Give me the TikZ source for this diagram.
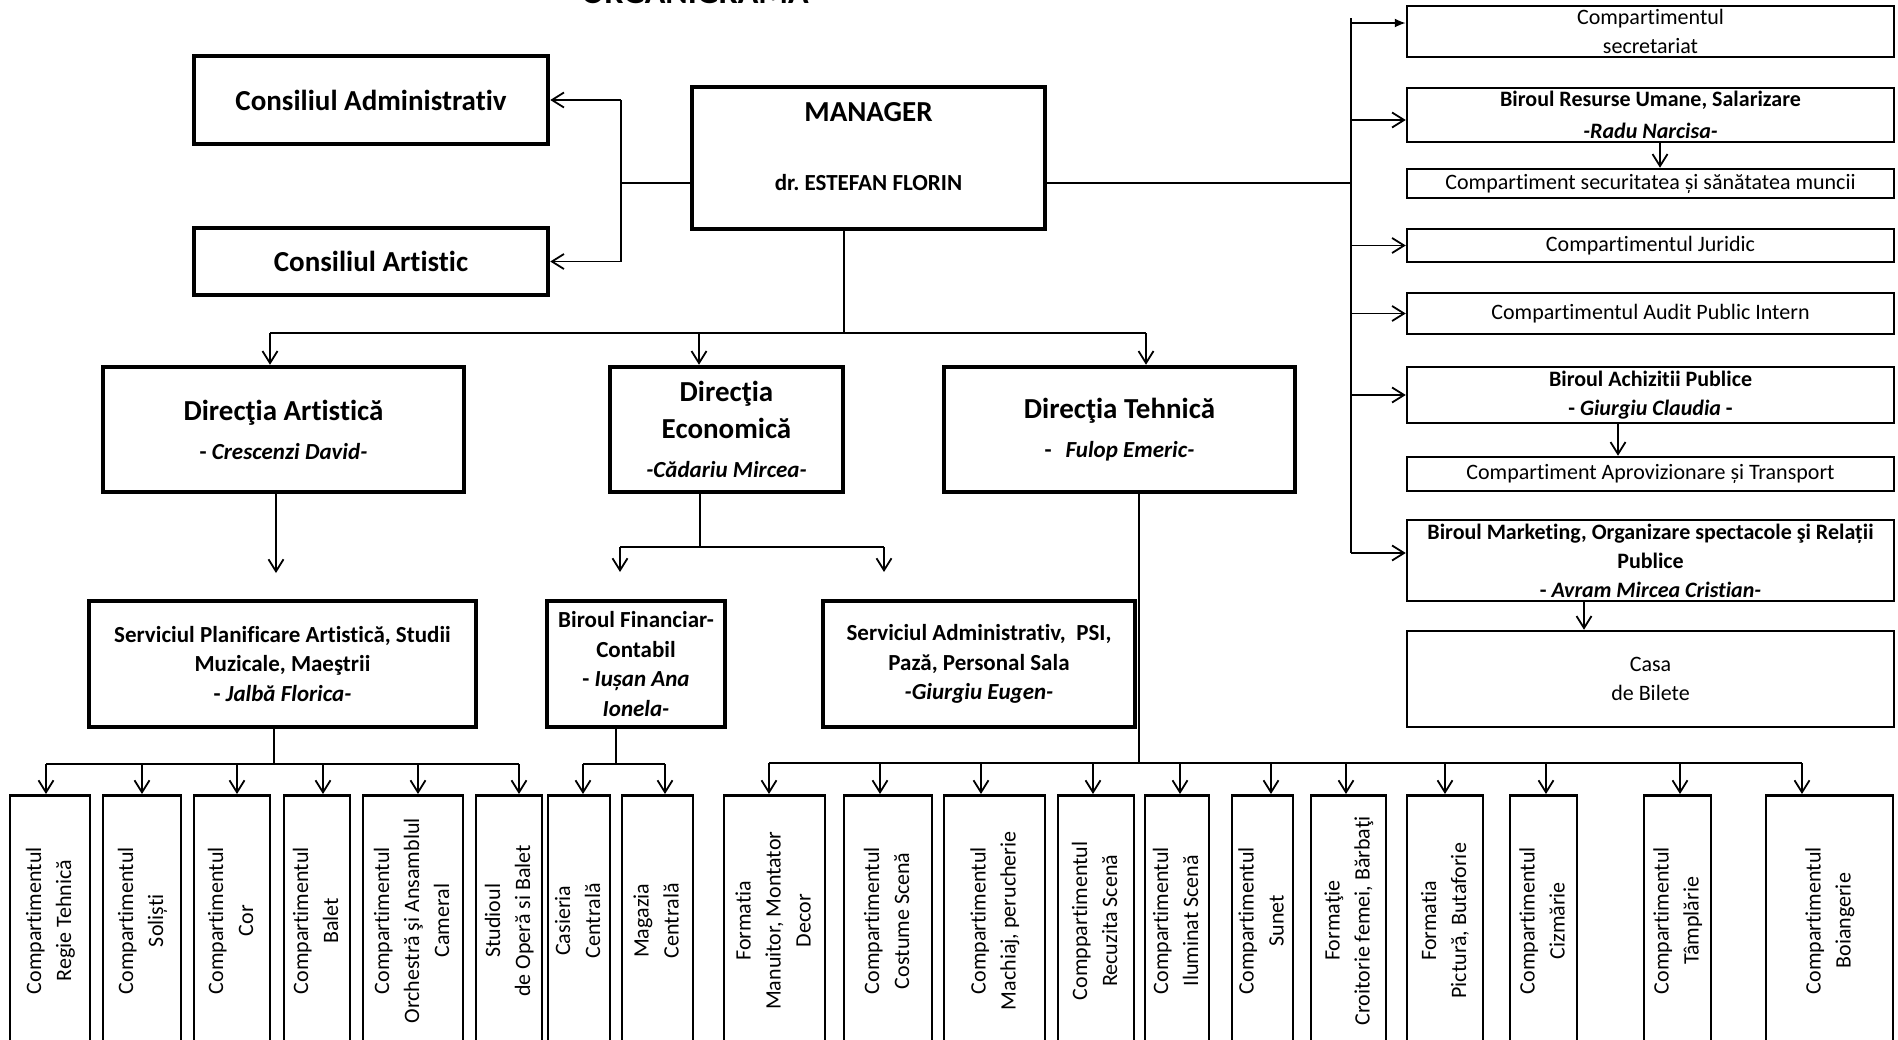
\documentclass[tikz,border=0pt]{standalone}
\usepackage{fontspec}
\setmainfont{Carlito}[Ligatures=NoCommon]
\usepackage{graphicx}
\usetikzlibrary{arrows.meta}
\newcommand{\uptext}[1]{\rotatebox{90}{\begin{tabular}{@{}c@{}}#1\end{tabular}}}
\tikzset{%
  >={Straight Barb[length=12pt,width=15pt]},
  % Specifications for style of boxes:
            base/.style = {rectangle, draw=black, inner sep=0pt,
                           align=center, font=\fontsize{22}{29}\selectfont},
           heavy/.style = {base, line width=4.5pt,
                           font=\bfseries\fontsize{23}{29.5}\selectfont},
         council/.style = {heavy, font=\bfseries\fontsize{29}{36}\selectfont},
          dirbox/.style = {heavy, minimum height=125pt,
                           font=\bfseries\fontsize{29}{37}\selectfont},
          office/.style = {base, line width=2.5pt, minimum width=487pt},
         compart/.style = {base, line width=2.5pt, anchor=north,
                           minimum height=251pt, font=\fontsize{22}{30}\selectfont},
}

\begin{document}
\begin{tikzpicture}[x=1pt, y=-1pt, line width=1.8pt]
  \path[use as bounding box, fill=white] (0,0) rectangle (1898,1039);
  % Specification of nodes (position, etc.)
  \node (title)    [font=\bfseries\fontsize{34}{40}\selectfont, anchor=base] at (695,3) {ORGANIGRAMA};
  \node (cadmin)   [council, minimum width=354pt, minimum height=88pt] at (371,100) {Consiliul Administrativ};
  \node (cart)     [council, minimum width=354pt, minimum height=67pt] at (371,261.5) {Consiliul Artistic};
  \node (manager)  [council, minimum width=353pt, minimum height=142pt] at (868.5,158)
        {\begin{tabular}{@{}c@{}}MANAGER\\[33pt]{\fontsize{23}{28}\selectfont dr.\ ESTEFAN FLORIN}\\[18pt]\end{tabular}};

  \node (dirart)   [dirbox, minimum width=361pt] at (283.5,429.5)
        {Direcţia Artistică\\[2pt]{\fontsize{23}{28}\selectfont - \textit{Crescenzi David-}}};
  \node (direco)   [dirbox, minimum width=233pt] at (726.5,429.5)
        {Direcţia\\Economică\\[2pt]{\fontsize{23}{28}\selectfont\itshape -Cădariu Mircea-}};
  \node (dirteh)   [dirbox, minimum width=351pt] at (1119.5,429.5)
        {Direcţia Tehnică\\[2pt]{\fontsize{23}{28}\selectfont -\hspace{0.6em}\textit{Fulop Emeric-}}};

  \node (plan)     [heavy, minimum width=387pt, minimum height=126pt] at (282.5,664)
        {Serviciul Planificare Artistică, Studii\\Muzicale, Maeştrii\\- \textit{Jalbă Florica-}};
  \node (fin)      [heavy, minimum width=178pt, minimum height=126pt] at (636,664)
        {Biroul Financiar-\\Contabil\\- \textit{Iușan Ana}\\\textit{Ionela-}};
  \node (admin)    [heavy, minimum width=312pt, minimum height=126pt] at (979,664)
        {Serviciul Administrativ,\ \ PSI,\\Pază, Personal Sala\\\textit{-Giurgiu Eugen-}};

  % right column
  \node (secr)     [office, minimum height=51pt] at (1650.5,31.5) {Compartimentul\\secretariat};
  \node (resurse)  [office, minimum height=54pt] at (1650.5,115)
        {\textbf{Biroul Resurse Umane, Salarizare}\\[3pt]\textbf{\textit{-Radu Narcisa-}}};
  \node (secur)    [office, minimum height=29pt] at (1650.5,183.5) {Compartiment securitatea și sănătatea muncii};
  \node (juridic)  [office, minimum height=33pt] at (1650.5,245.5) {Compartimentul Juridic};
  \node (audit)    [office, minimum height=41pt] at (1650.5,313.5) {Compartimentul Audit Public Intern};
  \node (achiz)    [office, minimum height=56pt] at (1650.5,395)
        {\textbf{Biroul Achizitii Publice}\\\textbf{- \textit{Giurgiu Claudia} -}};
  \node (aprov)    [office, minimum height=34pt] at (1650.5,474) {Compartiment Aprovizionare și Transport};
  \node (market)   [office, minimum height=81pt] at (1650.5,560.5)
        {\textbf{Biroul Marketing, Organizare spectacole şi Relații}\\\textbf{Publice}\\\textbf{- \textit{Avram Mircea Cristian-}}};
  \node (casa)     [office, minimum height=96pt] at (1650.5,679) {Casa\\de Bilete};

  % bottom row
  \node (regie)     [compart, minimum width=80pt]  at (50,794)     {\uptext{Compartimentul\\Regie Tehnică}};
  \node (solisti)   [compart, minimum width=78pt]  at (142,794)    {\uptext{Compartimentul\\Soliști}};
  \node (cor)       [compart, minimum width=76pt]  at (232,794)    {\uptext{Compartimentul\\Cor}};
  \node (balet)     [compart, minimum width=66pt]  at (317,794)    {\uptext{Compartimentul\\Balet}};
  \node (orch)      [compart, minimum width=100pt] at (413,794)    {\uptext{Compartimentul\\Orchestră şi Ansamblul\\Cameral}};
  \node (studio)    [compart, minimum width=66pt]  at (509,794)    {\uptext{Studioul\\de Operă si Balet}};
  \node (casieria)  [compart, minimum width=62pt]  at (579,794)    {\uptext{Casieria\\Centrală}};
  \node (magazia)   [compart, minimum width=71pt]  at (657.5,794)  {\uptext{Magazia\\Centrală}};
  \node (manuitor)  [compart, minimum width=101pt] at (774.5,794)  {\uptext{Formatia\\Manuitor, Montator\\Decor}};
  \node (costume)   [compart, minimum width=88pt]  at (888,794)    {\uptext{Compartimentul\\Costume Scenă}};
  \node (machiaj)   [compart, minimum width=101pt] at (994.5,794)  {\uptext{Compartimentul\\Machiaj, perucherie}};
  \node (recuzita)  [compart, minimum width=76pt]  at (1096,794)   {\uptext{Comppartimentul\\Recuzita Scenă}};
  \node (iluminat)  [compart, minimum width=64pt]  at (1177,794)   {\uptext{Compartimentul\\Iluminat Scenă}};
  \node (sunet)     [compart, minimum width=61pt]  at (1262.5,794) {\uptext{Compartimentul\\Sunet}};
  \node (croitorie) [compart, minimum width=75pt]  at (1348.5,794) {\uptext{Formaţie\\Croitorie femei, Bărbaţi}};
  \node (pictura)   [compart, minimum width=76pt]  at (1445,794)   {\uptext{Formatia\\Pictură, Butaforie}};
  \node (cizmarie)  [compart, minimum width=67pt]  at (1543.5,794) {\uptext{Compartimentul\\Cizmărie}};
  \node (tamplarie) [compart, minimum width=67pt]  at (1677.5,794) {\uptext{Compartimentul\\Tâmplărie}};
  \node (boiang)    [compart, minimum width=127pt] at (1829.5,794) {\uptext{Compartimentul\\Boiangerie}};

  % junction points of the lines
  \coordinate (lj)     at (621,183);
  \coordinate (rj)     at (1351,183);
  \coordinate (rtop)   at (1351,18);
  \coordinate (rbot)   at (1351,553);
  \coordinate (mj)     at (844,333);
  \coordinate (artend) at (276,573);
  \coordinate (ej)     at (700,547);
  \coordinate (efin)   at (620,572);
  \coordinate (eadm)   at (884,572);
  \coordinate (tj)     at (1139,763);
  \coordinate (pj)     at (274,764);
  \coordinate (fj)     at (616,764);

  % Specification of lines between nodes specified above
  \draw           (manager.west |- lj) -- (lj);
  \draw           (lj |- cadmin.east) -- (lj |- cart.east);
  \draw[->]       (lj |- cadmin.east) -- (cadmin.east);
  \draw[->]       (lj |- cart.east) -- (cart.east);

  \draw           (manager.east |- rj) -- (rj);
  \draw           (rtop) -- (rbot);
  \draw[-{Latex[length=11pt,width=9pt]}] ([yshift=8.5pt]secr.west -| rtop) -- ([yshift=8.5pt]secr.west);
  \draw[->]       ([yshift=-5pt]resurse.west -| rtop) -- ([yshift=-5pt]resurse.west);
  \draw[->]       (juridic.west -| rtop) -- (juridic.west);
  \draw[->]       (audit.west -| rtop) -- (audit.west);
  \draw[->]       (achiz.west -| rtop) -- (achiz.west);
  \draw[->]       ([yshift=7.5pt]market.west -| rbot) -- ([yshift=7.5pt]market.west);
  \draw[->]       ([xshift=9.5pt]resurse.south) -- ([xshift=9.5pt]secur.north);
  \draw[->]       ([xshift=-32.5pt]achiz.south) -- ([xshift=-32.5pt]aprov.north);
  \draw[->]       ([xshift=-66.5pt]market.south) -- ([xshift=-66.5pt]casa.north);

  \draw           (manager.south -| mj) -- (mj);
  \draw           ([xshift=-13.5pt]dirart.north |- mj) -- ([xshift=26.5pt]dirteh.north |- mj);
  \draw[->]       ([xshift=-13.5pt]dirart.north |- mj) -- ([xshift=-13.5pt]dirart.north);
  \draw[->]       ([xshift=-27.5pt]direco.north |- mj) -- ([xshift=-27.5pt]direco.north);
  \draw[->]       ([xshift=26.5pt]dirteh.north |- mj) -- ([xshift=26.5pt]dirteh.north);

  \draw[->]       (dirart.south -| artend) -- (artend);
  \draw           (direco.south -| ej) -- (ej);
  \draw           (efin |- ej) -- (eadm |- ej);
  \draw[->]       (efin |- ej) -- (efin);
  \draw[->]       (eadm |- ej) -- (eadm);
  \draw           (dirteh.south -| tj) -- (tj);

  \draw           (plan.south -| pj) -- (pj);
  \draw           ([xshift=-4pt]regie.north |- pj) -- ([xshift=10pt]studio.north |- pj);
  \draw[->]       ([xshift=-4pt]regie.north |- pj) -- ([xshift=-4pt]regie.north);
  \draw[->]       (solisti.north |- pj) -- (solisti.north);
  \draw[->]       ([xshift=5pt]cor.north |- pj) -- ([xshift=5pt]cor.north);
  \draw[->]       ([xshift=6pt]balet.north |- pj) -- ([xshift=6pt]balet.north);
  \draw[->]       ([xshift=5pt]orch.north |- pj) -- ([xshift=5pt]orch.north);
  \draw[->]       ([xshift=10pt]studio.north |- pj) -- ([xshift=10pt]studio.north);

  \draw           (fin.south -| fj) -- (fj);
  \draw           ([xshift=4pt]casieria.north |- fj) -- ([xshift=7.5pt]magazia.north |- fj);
  \draw[->]       ([xshift=4pt]casieria.north |- fj) -- ([xshift=4pt]casieria.north);
  \draw[->]       ([xshift=7.5pt]magazia.north |- fj) -- ([xshift=7.5pt]magazia.north);

  \draw           ([xshift=-5.5pt]manuitor.north |- tj) -- ([xshift=-27.5pt]boiang.north |- tj);
  \draw[->]       ([xshift=-5.5pt]manuitor.north |- tj) -- ([xshift=-5.5pt]manuitor.north);
  \draw[->]       ([xshift=-8pt]costume.north |- tj) -- ([xshift=-8pt]costume.north);
  \draw[->]       ([xshift=-13.5pt]machiaj.north |- tj) -- ([xshift=-13.5pt]machiaj.north);
  \draw[->]       ([xshift=-3pt]recuzita.north |- tj) -- ([xshift=-3pt]recuzita.north);
  \draw[->]       ([xshift=3pt]iluminat.north |- tj) -- ([xshift=3pt]iluminat.north);
  \draw[->]       ([xshift=8.5pt]sunet.north |- tj) -- ([xshift=8.5pt]sunet.north);
  \draw[->]       ([xshift=-2.5pt]croitorie.north |- tj) -- ([xshift=-2.5pt]croitorie.north);
  \draw[->]       (pictura.north |- tj) -- (pictura.north);
  \draw[->]       ([xshift=2.5pt]cizmarie.north |- tj) -- ([xshift=2.5pt]cizmarie.north);
  \draw[->]       ([xshift=2.5pt]tamplarie.north |- tj) -- ([xshift=2.5pt]tamplarie.north);
  \draw[->]       ([xshift=-27.5pt]boiang.north |- tj) -- ([xshift=-27.5pt]boiang.north);
\end{tikzpicture}
\end{document}
